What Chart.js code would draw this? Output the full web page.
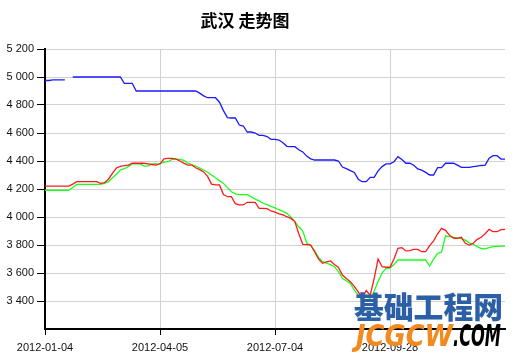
<!DOCTYPE html>
<html>
<head>
<meta charset="utf-8">
<script src="https://cdn.jsdelivr.net/npm/chart.js@4"></script>
<style>
  html, body { margin: 0; padding: 0; background: #fff; }
  #wrap { width: 522px; height: 359px; position: relative; }
</style>
</head>
<body>
<div id="wrap"><canvas id="myChart" width="522" height="359"></canvas></div>
<script>
'use strict';

// labels shown under the x axis, one every STEP points
const xTickLabels = ['2012-01-04', '2012-04-05', '2012-07-04', '2012-09-28', ''];
const STEP = 29;

// blue line (null = missing day)
const blueLine = [
  4975, 4975, 4980, 4980, 4980, 4980, null, 5000, 5000, 5000,
  5000, 5000, 5000, 5000, 5000, 5000, 5000, 5000, 5000, 5000,
  4955, 4955, 4955, 4900, 4900, 4900, 4900, 4900, 4900, 4900,
  4900, 4900, 4900, 4900, 4900, 4900, 4900, 4900, 4900, 4885,
  4865, 4852, 4852, 4852, 4820, 4760, 4710, 4707, 4707, 4657,
  4650, 4607, 4607, 4600, 4583, 4583, 4575, 4555, 4555, 4550,
  4530, 4505, 4502, 4502, 4480, 4465, 4435, 4415, 4407, 4407,
  4407, 4407, 4407, 4407, 4400, 4357, 4345, 4331, 4318, 4270,
  4252, 4252, 4283, 4283, 4330, 4360, 4379, 4379, 4395, 4431,
  4410, 4384, 4384, 4370, 4343, 4335, 4319, 4300, 4300, 4352,
  4352, 4384, 4384, 4384, 4370, 4355, 4355, 4355, 4360, 4364,
  4368, 4371, 4420, 4438, 4438, 4414, 4414
];

const redLine = [
  4221, 4221, 4221, 4221, 4221, 4221, 4221, 4235, 4252, 4252,
  4252, 4252, 4252, 4252, 4240, 4245, 4270, 4312, 4350, 4362,
  4367, 4370, 4384, 4384, 4384, 4384, 4380, 4375, 4371, 4380,
  4415, 4419, 4419, 4415, 4400, 4385, 4371, 4371, 4352, 4338,
  4322, 4290, 4235, 4229, 4229, 4160, 4145, 4145, 4095, 4086,
  4086, 4105, 4105, 4105, 4062, 4062, 4060, 4043, 4035, 4023,
  4015, 4002, 3990, 3967, 3880, 3805, 3803, 3800, 3750, 3700,
  3669, 3680, 3686, 3660, 3640, 3585, 3560, 3538, 3505, 3465,
  3420, 3475, 3440, 3560, 3700, 3645, 3641, 3641, 3700, 3776,
  3781, 3758, 3760, 3769, 3769, 3752, 3752, 3795, 3830, 3880,
  3919, 3905, 3870, 3850, 3848, 3855, 3812, 3800, 3812, 3840,
  3855, 3880, 3912, 3895, 3895, 3910, 3912
];

const greenLine = [
  4191, 4191, 4191, 4191, 4191, 4191, 4191, 4210, 4233, 4233,
  4233, 4233, 4233, 4233, 4233, 4240, 4252, 4280, 4305, 4336,
  4345, 4360, 4379, 4379, 4379, 4364, 4364, 4379, 4379, 4379,
  4392, 4395, 4412, 4412, 4412, 4405, 4384, 4375, 4364, 4350,
  4336, 4320, 4300, 4280, 4260, 4240, 4210, 4180, 4165, 4160,
  4160, 4160, 4145, 4128, 4115, 4098, 4088, 4076, 4065, 4052,
  4040, 4026, 4000, 3967, 3930, 3900, 3815, 3797, 3760, 3710,
  3681, 3670, 3660, 3645, 3610, 3562, 3545, 3526, 3480, 3440,
  3410, 3400, 3420, 3470, 3540, 3600, 3633, 3635, 3660, 3693,
  3693, 3693, 3693, 3693, 3693, 3693, 3693, 3650, 3700, 3740,
  3750, 3864, 3860, 3855, 3850, 3845, 3835, 3815, 3805, 3788,
  3775, 3772, 3781, 3788, 3790, 3792, 3793
];

const yMin = 3200, yMax = 5200, yStep = 200;

function toPoints(arr) {
  return arr.map((v, i) => ({ x: i, y: v }));
}

const lastX = blueLine.length - 1;

// title + watermark drawn straight on the canvas
const extras = {
  id: 'extras',
  afterDraw(chart) {
    const c = chart.ctx;
    c.save();
    c.fillStyle = '#000';
    c.font = 'bold 17px "Noto Sans CJK SC"';
    c.textAlign = 'center';
    c.textBaseline = 'middle';
    c.fillText('武汉 走势图', 245, 21);

    // watermark
    c.textAlign = 'left';
    c.textBaseline = 'alphabetic';
    c.fillStyle = '#2c60a6';
    c.font = '900 30px "Noto Sans CJK SC"';
    c.fillText('基础工程网', 354, 318, 149);
    c.font = 'italic bold 30px "DejaVu Sans"';
    c.fillStyle = '#f38a1f';
    c.fillText('JCGCW', 356, 346, 97);
    c.fillStyle = '#000';
    c.fillText('.COM', 453, 346, 48);
    c.restore();
  }
};

let ctxChart = document.getElementById('myChart');
let chart = new Chart(ctxChart, {
  type: 'line',
  data: {
    datasets: [
      { data: toPoints(blueLine), borderColor: '#1a1aff', borderWidth: 1.3 },
      { data: toPoints(redLine), borderColor: '#ff1a1a', borderWidth: 1.3 },
      { data: toPoints(greenLine), borderColor: '#1aff1a', borderWidth: 1.3 }
    ]
  },
  options: {
    responsive: false,
    animation: false,
    spanGaps: false,
    elements: { point: { radius: 0 }, line: { tension: 0 } },
    layout: { padding: { top: 49, right: 17, left: 0, bottom: 0 } },
    plugins: { legend: { display: false }, tooltip: { enabled: false }, title: { display: false } },
    scales: {
      x: {
        type: 'linear',
        min: 0,
        max: lastX,
        afterFit: s => { s.height = 30; },
        border: { color: '#000', width: 2 },
        grid: {
          color: c => (c.tick && c.tick.value === lastX) ? 'rgba(0,0,0,0)' : '#d2d2d2',
          tickColor: c => (c.tick && c.tick.value === lastX) ? 'rgba(0,0,0,0)' : '#000',
          tickLength: 6
        },
        ticks: {
          stepSize: STEP,
          autoSkip: false,
          maxRotation: 0,
          padding: 6,
          color: '#111',
          font: { family: '"Liberation Sans", Arial', size: 11 },
          callback: v => xTickLabels[Math.round(v / STEP)] || ''
        }
      },
      y: {
        min: yMin,
        max: yMax,
        afterFit: s => { s.width = 45; },
        border: { color: '#000', width: 2 },
        grid: {
          color: '#d2d2d2',
          tickColor: c => (c.tick && c.tick.value === yMin) ? 'rgba(0,0,0,0)' : '#000',
          tickLength: 8
        },
        ticks: {
          stepSize: yStep,
          padding: 3,
          color: '#111',
          font: { family: '"Liberation Sans", Arial', size: 11 },
          callback: v => v === yMin ? '' : String(v).replace(/\B(?=(\d{3})+(?!\d))/g, ' ')
        }
      }
    }
  },
  plugins: [extras]
});
</script>
</body>
</html>
